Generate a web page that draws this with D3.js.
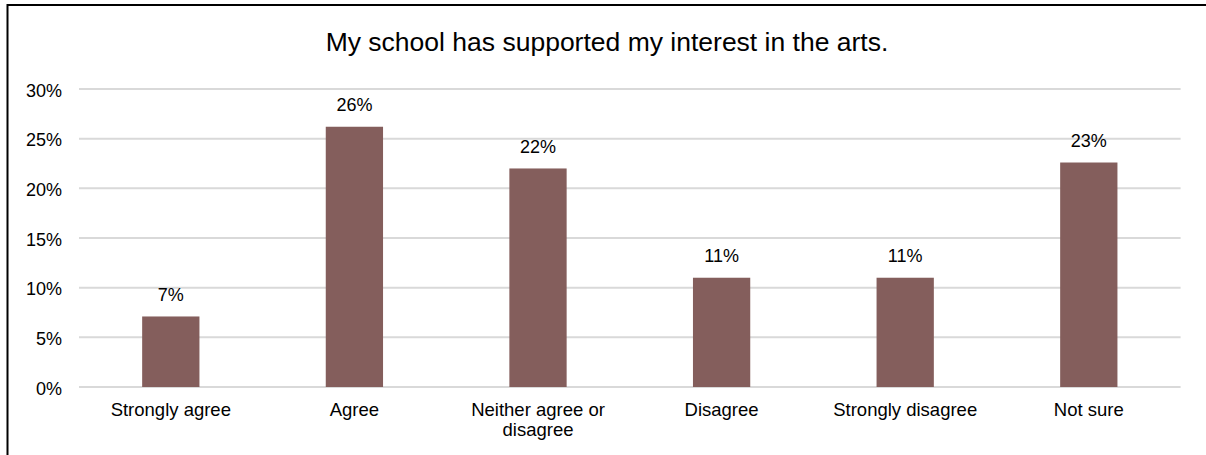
<!DOCTYPE html>
<html>
<head>
<meta charset="utf-8">
<script src="https://cdn.jsdelivr.net/npm/d3@7"></script>
<style>
  html, body { margin: 0; padding: 0; background: #fff; overflow: hidden; }
  svg { display: block; font-family: "Liberation Sans", Arial, sans-serif; }
</style>
</head>
<body>
<svg id="chart" width="1206" height="455"></svg>
<script>
const title = "My school has supported my interest in the arts.";
const categories = ["Strongly agree", "Agree", "Neither agree or disagree", "Disagree", "Strongly disagree", "Not sure"];
const categoryLines = [["Strongly agree"], ["Agree"], ["Neither agree or", "disagree"], ["Disagree"], ["Strongly disagree"], ["Not sure"]];
const values = [7.1, 26.2, 22.0, 11.0, 11.0, 22.6];
const valueLabels = ["7%", "26%", "22%", "11%", "11%", "23%"];
const yTicks = [0, 5, 10, 15, 20, 25, 30];

const svg = d3.select("#chart");

// outer border (clipped at right and bottom like the reference)
svg.append("rect")
  .attr("x", 7.5).attr("y", 5).attr("width", 1220).attr("height", 470)
  .attr("fill", "#fff").attr("stroke", "#000").attr("stroke-width", 2);

const x = d3.scaleBand().domain(categories).range([79, 1180.6]).paddingInner(0.688).paddingOuter(0.344);
const y = d3.scaleLinear().domain([0, 30]).range([387, 89]);

// gridlines
svg.append("g").selectAll("line").data(yTicks).join("line")
  .attr("x1", 79).attr("x2", 1180.6)
  .attr("y1", d => y(d)).attr("y2", d => y(d))
  .attr("stroke", "#d9d9d9").attr("stroke-width", 2);

// y axis labels
const yAxis = d3.axisLeft(y).tickValues(yTicks).tickFormat(d => d + "%").tickSize(0).tickPadding(0);
const ya = svg.append("g").attr("transform", "translate(62,0)").call(yAxis);
ya.select(".domain").remove();
ya.selectAll("text").attr("font-size", "18px").attr("fill", "#000")
  .attr("font-family", "'Liberation Sans', Arial, sans-serif").attr("dy", "0.4em");

// bars
svg.append("g").selectAll("rect").data(values).join("rect")
  .attr("x", (d, i) => x(categories[i]))
  .attr("width", x.bandwidth())
  .attr("y", d => y(d))
  .attr("height", d => y(0) - y(d))
  .attr("fill", "#845e5c");

// value labels
svg.append("g").selectAll("text").data(values).join("text")
  .attr("x", (d, i) => x(categories[i]) + x.bandwidth() / 2)
  .attr("y", d => y(d) - 15.5)
  .attr("text-anchor", "middle")
  .attr("font-size", "18px").attr("fill", "#000")
  .text((d, i) => valueLabels[i]);

// category labels
const cat = svg.append("g").selectAll("text").data(categories).join("text")
  .attr("x", d => x(d) + x.bandwidth() / 2)
  .attr("y", 415.5)
  .attr("text-anchor", "middle")
  .attr("font-size", "18.5px").attr("fill", "#000");
cat.each(function(d, i) {
  const t = d3.select(this);
  categoryLines[i].forEach((line, j) => {
    t.append("tspan").attr("x", x(d) + x.bandwidth() / 2).attr("dy", j === 0 ? 0 : 20.8).text(line);
  });
});

// title
svg.append("text")
  .attr("x", 607).attr("y", 50.5)
  .attr("text-anchor", "middle")
  .attr("font-size", "26.5px").attr("fill", "#000")
  .text(title);
</script>
</body>
</html>
